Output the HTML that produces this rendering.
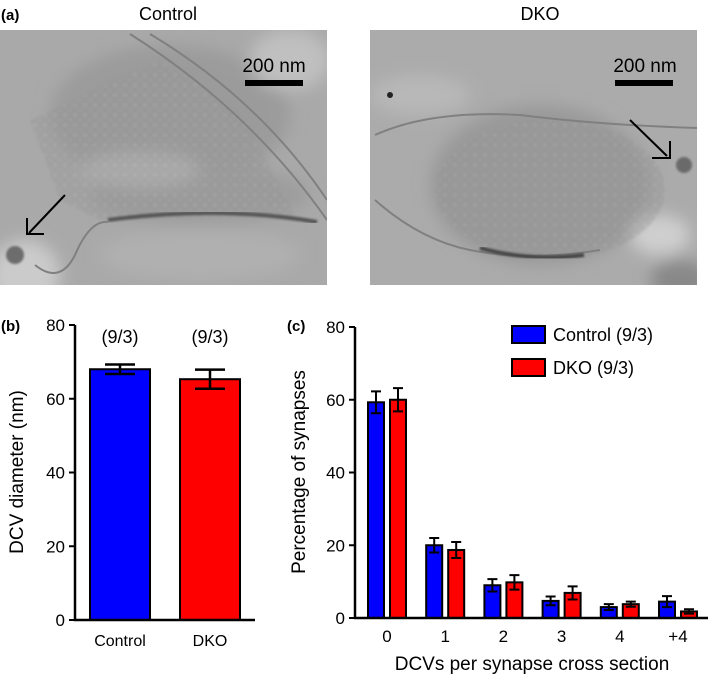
<!DOCTYPE html>
<html><head><meta charset="utf-8"><style>
body{margin:0;background:#fff;width:709px;height:677px;overflow:hidden;font-family:"Liberation Sans",Arial,sans-serif}
svg{position:absolute;left:0;top:0}
text{font-family:"Liberation Sans",Arial,sans-serif}
</style></head><body>
<svg width="709" height="677" viewBox="0 0 709 677">
<defs>
<pattern id="ves" width="10" height="10" patternUnits="userSpaceOnUse">
<rect width="10" height="10" fill="#9c9c9c"/>
<circle cx="5" cy="5" r="3.6" fill="#a5a5a5" stroke="#888" stroke-width="1.1"/>
</pattern>
<filter id="bl"><feGaussianBlur stdDeviation="8"/></filter>
<filter id="bl2"><feGaussianBlur stdDeviation="1"/></filter>
<clipPath id="c1"><rect x="0" y="30" width="327" height="255"/></clipPath>
<clipPath id="c2"><rect x="370" y="30" width="327" height="255"/></clipPath>
</defs>

<text x="1" y="20" font-size="15" font-weight="bold">(a)</text>
<text x="168" y="20" font-size="18" text-anchor="middle">Control</text>
<text x="540" y="20" font-size="18" text-anchor="middle">DKO</text>

<g clip-path="url(#c1)">
<rect x="0" y="30" width="327" height="255" fill="#a9a9a9"/>
<g filter="url(#bl)">
<ellipse cx="170" cy="115" rx="120" ry="70" fill="#9b9b9b"/>
<ellipse cx="200" cy="195" rx="110" ry="30" fill="#9d9d9d"/>
<ellipse cx="25" cy="275" rx="35" ry="35" fill="#cbcbcb"/>
<ellipse cx="290" cy="60" rx="40" ry="30" fill="#c0c0c0"/>
<ellipse cx="140" cy="170" rx="60" ry="18" fill="#b5b5b5"/>
<ellipse cx="200" cy="255" rx="100" ry="25" fill="#b0b0b0"/>
</g>
<path d="M30,120 L160,60 L240,110 L295,215 L100,220 L60,200 Z" fill="url(#ves)" opacity="0.4" filter="url(#bl2)"/>
<path d="M108,220 Q220,205 317,222" stroke="#555" stroke-width="4" fill="none" filter="url(#bl2)"/>
<path d="M130,34 Q250,110 327,220" stroke="#808080" stroke-width="2" fill="none"/>
<path d="M150,34 Q260,100 327,200" stroke="#808080" stroke-width="2" fill="none"/>
<path d="M35,265 Q60,285 75,255 Q90,220 108,222" stroke="#808080" stroke-width="2" fill="none"/>
<circle cx="15" cy="255" r="9" fill="#6d6d6d" filter="url(#bl2)"/>
<line x1="65" y1="195" x2="29" y2="233" stroke="#000" stroke-width="2"/>
<path d="M27,218 L27,234 L44,234" stroke="#000" stroke-width="2" fill="none"/>
<rect x="245" y="80" width="58" height="6" fill="#000"/>
<text x="274" y="72" font-size="19" text-anchor="middle">200 nm</text>
</g>

<g clip-path="url(#c2)">
<rect x="370" y="30" width="327" height="255" fill="#ababab"/>
<g filter="url(#bl)">
<ellipse cx="540" cy="185" rx="110" ry="80" fill="#999"/>
<ellipse cx="680" cy="280" rx="30" ry="20" fill="#888"/>
<ellipse cx="660" cy="235" rx="30" ry="20" fill="#cfcfcf"/>
<ellipse cx="420" cy="95" rx="50" ry="20" fill="#b8b8b8"/>
</g>
<ellipse cx="550" cy="190" rx="115" ry="70" fill="url(#ves)" opacity="0.4" filter="url(#bl2)"/>
<path d="M375,135 Q430,110 520,115 Q600,125 697,128" stroke="#808080" stroke-width="2" fill="none"/>
<path d="M375,200 Q420,240 470,250 Q530,262 600,250" stroke="#808080" stroke-width="2" fill="none"/>
<path d="M480,248 Q530,262 584,255" stroke="#444" stroke-width="4" fill="none" filter="url(#bl2)"/>
<circle cx="684" cy="165" r="8" fill="#6a6a6a" filter="url(#bl2)"/>
<circle cx="390" cy="95" r="3" fill="#222"/>
<line x1="630" y1="120" x2="667" y2="156" stroke="#000" stroke-width="2"/>
<path d="M670,141 L670,158 L652,158" stroke="#000" stroke-width="2" fill="none"/>
<rect x="615" y="80" width="58" height="6" fill="#000"/>
<text x="645" y="72" font-size="19" text-anchor="middle">200 nm</text>
</g>

<g id="chartB"></g>
<g id="chartC"></g>
</svg>
<script>
const NS='http://www.w3.org/2000/svg';
function mk(parent,tag,attrs,txt){const e=document.createElementNS(NS,tag);for(const k in attrs)e.setAttribute(k,attrs[k]);if(txt!==undefined)e.textContent=txt;parent.appendChild(e);return e;}

const bCategories=['Control','DKO'];
const bValues=[68,65.3];
const bErrors=[1.3,2.6];
const bN=['(9/3)','(9/3)'];
const bTicks=[0,20,40,60,80];
const bColors=['#0000ff','#ff0000'];

const cCategories=['0','1','2','3','4','+4'];
const cControl=[59.3,20,9,4.7,3,4.5];
const cControlErr=[3,2,1.7,1.2,0.8,1.5];
const cDKO=[60,18.7,9.8,6.9,3.8,1.8];
const cDKOErr=[3.2,2.2,2,1.8,0.7,0.6];
const cTicks=[0,20,40,60,80];
const cSeries=['Control (9/3)','DKO (9/3)'];

(function(){
 const g=document.getElementById('chartB');
 const x0=75,y0=620,yTop=325,xEnd=255;
 const y=v=>y0-(v/80)*(y0-yTop);
 const cx=i=>120+i*90, bw=60;
 mk(g,'text',{x:1,y:331,'font-size':15,'font-weight':'bold',},'(b)');
 bValues.forEach((v,i)=>{
  const r=mk(g,'rect',{x:cx(i)-bw/2,y:y(v),width:bw,height:y0-y(v),fill:bColors[i],stroke:'#000','stroke-width':2});
  
  
  const e=bErrors[i];
  const eb=mk(g,'path',{d:`M${cx(i)},${y(v+e)}V${y(v-e)}M${cx(i)-15},${y(v+e)}H${cx(i)+15}M${cx(i)-15},${y(v-e)}H${cx(i)+15}`,stroke:'#000','stroke-width':2.5,fill:'none'});
  
  
  const n=mk(g,'text',{x:cx(i),y:343,'font-size':18,'text-anchor':'middle'},bN[i]);
  
  
  const t=mk(g,'text',{x:cx(i),y:646,'font-size':16,'text-anchor':'middle'},bCategories[i]);
  
  
 });
 mk(g,'path',{d:`M${x0},${yTop}V${y0}H${xEnd}`,stroke:'#000','stroke-width':2.5,fill:'none',});
 bTicks.forEach(t=>{
  mk(g,'line',{x1:x0-6,x2:x0,y1:y(t),y2:y(t),stroke:'#000','stroke-width':2});
  const l=mk(g,'text',{x:x0-10,y:y(t)+6,'font-size':17,'text-anchor':'end'},t);
  
  
 });
 mk(g,'text',{x:0,y:0,'font-size':19,'text-anchor':'middle',transform:'translate(23,472) rotate(-90)',},'DCV diameter (nm)');
})();

(function(){
 const g=document.getElementById('chartC');
 const x0=355,y0=618,yTop=327,xEnd=708;
 const y=v=>y0-(v/80)*(y0-yTop);
 const gx=i=>387+i*58.2, bw=16, off=11;
 mk(g,'text',{x:287,y:331,'font-size':15,'font-weight':'bold',},'(c)');
 const series=[[cControl,cControlErr,'#0000ff',-off,'control'],[cDKO,cDKOErr,'#ff0000',off,'dko']];
 cCategories.forEach((c,i)=>{
  series.forEach(([vals,errs,col,o,nm])=>{
   const v=vals[i],e=errs[i],cx=gx(i)+o;
   const r=mk(g,'rect',{x:cx-bw/2,y:y(v),width:bw,height:y0-y(v),fill:col,stroke:'#000','stroke-width':2});
   
   
   const eb=mk(g,'path',{d:`M${cx},${y(v+e)}V${y(v-e)}M${cx-5},${y(v+e)}H${cx+5}M${cx-5},${y(v-e)}H${cx+5}`,stroke:'#000','stroke-width':2,fill:'none'});
   
   
  });
  const t=mk(g,'text',{x:gx(i),y:642,'font-size':17,'text-anchor':'middle'},c);
  
  
 });
 mk(g,'path',{d:`M${x0},${yTop}V${y0}H${xEnd}`,stroke:'#000','stroke-width':2.5,fill:'none',});
 cTicks.forEach(t=>{
  mk(g,'line',{x1:x0-6,x2:x0,y1:y(t),y2:y(t),stroke:'#000','stroke-width':2});
  const l=mk(g,'text',{x:x0-10,y:y(t)+6,'font-size':17,'text-anchor':'end'},t);
  
  
 });
 mk(g,'text',{x:0,y:0,'font-size':19,'text-anchor':'middle',transform:'translate(305,472) rotate(-90)',},'Percentage of synapses');
 mk(g,'text',{x:532,y:670,'font-size':19,'text-anchor':'middle',},'DCVs per synapse cross section');
 const cols=['#0000ff','#ff0000'];
 cSeries.forEach((s,i)=>{
  const yy=326+i*33;
  const sw=mk(g,'rect',{x:512,y:yy,width:33,height:17,fill:cols[i],stroke:'#000','stroke-width':2});
  
  
  const lt=mk(g,'text',{x:553,y:yy+15,'font-size':18},s);
  
  
 });
})();
</script>
</body></html>
